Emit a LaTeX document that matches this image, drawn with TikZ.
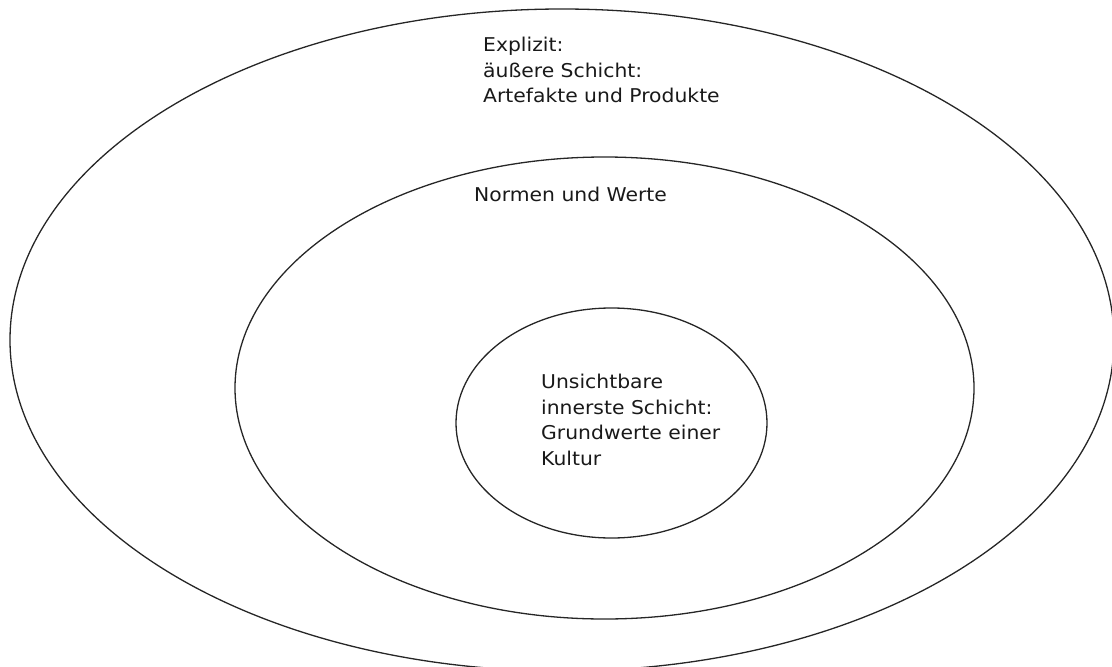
\documentclass[tikz,border=0pt]{standalone}
\usepackage{fontspec}
\usetikzlibrary{shapes.geometric}
\newfontfamily\lblfont[FakeStretch=1.07]{DejaVu Sans}
\tikzset{
  ring/.style={ellipse, draw=black!85, line width=1.3pt, inner sep=0pt},
  lbl/.style={anchor=north west, inner sep=0pt, align=left, text=black!90,
    font=\lblfont\fontsize{19pt}{25.5pt}\selectfont}
}
\begin{document}
\begin{tikzpicture}[x=1pt,y=1pt]
\useasboundingbox (0,0) rectangle (1112,-667);
\node[ring, minimum width=1104pt, minimum height=662pt] (outer) at (562,-340) {};
\node[ring, minimum width=739pt, minimum height=462pt] (middle) at (604.5,-388) {};
\node[ring, minimum width=311pt, minimum height=230pt] (inner) at (611.5,-423) {};
\node[lbl] (explizit) at (483,-37) {Explizit:\\äußere Schicht:\\Artefakte und Produkte};
\node[lbl] (normen) at (474,-187) {Normen und Werte};
\node[lbl] (kern) at (541,-374) {Unsichtbare\\innerste Schicht:\\Grundwerte einer\\Kultur};
\end{tikzpicture}
\end{document}
